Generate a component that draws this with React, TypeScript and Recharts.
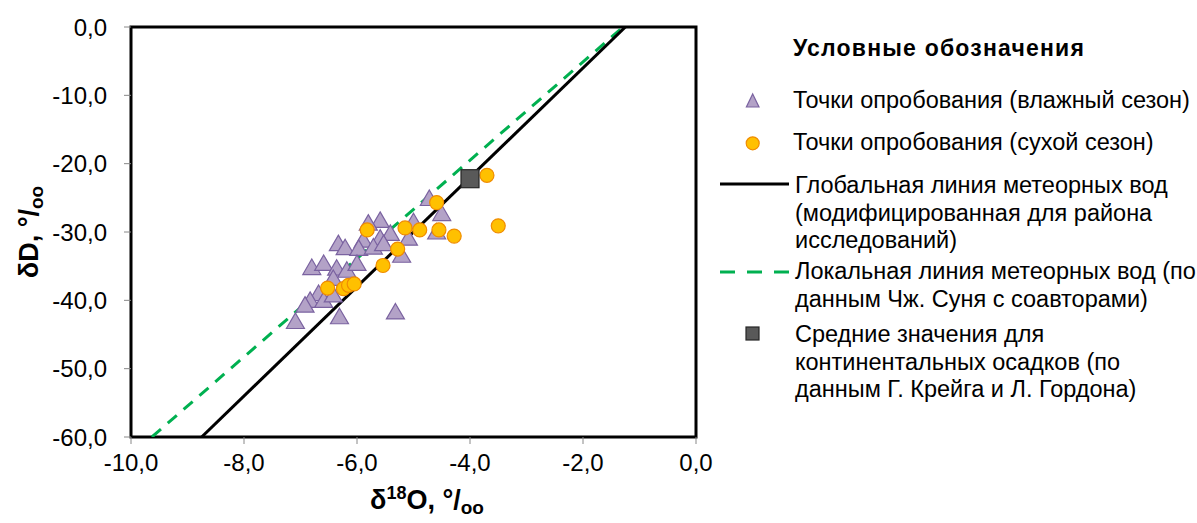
import { ReferenceArea, Scatter, ScatterChart, XAxis, YAxis } from 'recharts';

// δ18O / δD, ‰
const wetSeason = [
  { x: -4.72, y: -25.1 }, { x: -4.5, y: -27.3 }, { x: -5.59, y: -28.3 }, { x: -5.8, y: -28.7 },
  { x: -5.0, y: -28.5 }, { x: -4.59, y: -30.0 }, { x: -5.41, y: -30.2 }, { x: -5.09, y: -30.9 },
  { x: -5.59, y: -30.9 }, { x: -5.89, y: -31.2 }, { x: -6.33, y: -31.7 }, { x: -6.21, y: -32.3 },
  { x: -5.97, y: -32.4 }, { x: -5.71, y: -32.2 }, { x: -5.53, y: -31.7 }, { x: -5.21, y: -33.4 },
  { x: -6.8, y: -35.2 }, { x: -6.59, y: -34.6 }, { x: -6.36, y: -35.3 }, { x: -6.18, y: -35.6 },
  { x: -6.0, y: -34.6 }, { x: -6.42, y: -36.8 }, { x: -6.68, y: -39.0 }, { x: -6.83, y: -40.0 },
  { x: -6.92, y: -40.7 }, { x: -6.59, y: -40.0 }, { x: -6.42, y: -39.2 }, { x: -7.09, y: -43.1 },
  { x: -6.31, y: -42.4 }, { x: -5.32, y: -41.7 },
];

const drySeason = [
  { x: -3.7, y: -21.7 }, { x: -3.5, y: -29.1 }, { x: -4.59, y: -25.7 }, { x: -5.82, y: -29.7 },
  { x: -5.15, y: -29.4 }, { x: -4.89, y: -29.7 }, { x: -4.55, y: -29.7 }, { x: -4.28, y: -30.6 },
  { x: -5.28, y: -32.5 }, { x: -5.54, y: -34.9 }, { x: -6.52, y: -38.2 }, { x: -6.24, y: -38.3 },
  { x: -6.15, y: -37.8 }, { x: -6.05, y: -37.6 },
];

// global meteoric water line (modified), local meteoric water line
const gmwl = [{ x: -8.75, y: -60 }, { x: -1.25, y: 0 }];
const lmwl = [{ x: -9.63, y: -60 }, { x: -1.29, y: 0 }];

const continentalMean = [{ x: -4.0, y: -22.2 }];

const xTicks = [-10, -8, -6, -4, -2, 0];
const yTicks = [0, -10, -20, -30, -40, -50, -60];

const legendTitle = 'Условные обозначения';
const legendWet = ['Точки опробования (влажный сезон)'];
const legendDry = ['Точки опробования (сухой сезон)'];
const legendGmwl = ['Глобальная линия метеорных вод', '(модифицированная для района', 'исследований)'];
const legendLmwl = ['Локальная линия метеорных вод (по', 'данным Чж. Суня с соавторами)'];
const legendMean = ['Средние значения для', 'континентальных осадков (по', 'данным Г. Крейга и Л. Гордона)'];

const FONT = '"Liberation Sans", Arial, sans-serif';
const TRI_FILL = '#b3a2c7';
const TRI_STROKE = '#7a62a0';
const DOT_FILL = '#ffc000';
const DOT_STROKE = '#f08c00';
const SQ_FILL = '#595959';
const SQ_STROKE = '#262626';
const GREEN = '#00b050';

const fmt = (v: number) => v.toFixed(1).replace('.', ',');

const Triangle = (props: any) => {
  const { cx, cy } = props;
  const s = 9;
  return (
    <path
      d={`M${cx},${cy - 8.5} L${cx + s},${cy + 7} L${cx - s},${cy + 7} Z`}
      fill={TRI_FILL}
      stroke={TRI_STROKE}
      strokeWidth={1.2}
    />
  );
};

const Dot = (props: any) => (
  <circle cx={props.cx} cy={props.cy} r={7} fill={DOT_FILL} stroke={DOT_STROKE} strokeWidth={1.2} />
);

const Square = (props: any) => (
  <rect x={props.cx - 9} y={props.cy - 9} width={18} height={18} fill={SQ_FILL} stroke={SQ_STROKE} strokeWidth={1.2} />
);

const Nothing = () => <g />;

function LegendText({ lines, x, y }: { lines: string[]; x: number; y: number }) {
  return (
    <text x={x} y={y} fontSize={23.5} fill="#000" fontFamily={FONT}>
      {lines.map((l, i) => (
        <tspan key={i} x={x} dy={i === 0 ? 0 : 27.5}>
          {l}
        </tspan>
      ))}
    </text>
  );
}

export default function App() {
  return (
    <div
      style={{
        position: 'absolute',
        left: 0,
        top: 0,
        width: 1197,
        height: 523,
        background: '#fff',
        fontFamily: FONT,
      }}
    >
      <ScatterChart width={720} height={523} margin={{ top: 27, right: 24, bottom: 0, left: 0 }}>
        <XAxis
          type="number"
          dataKey="x"
          domain={[-10, 0]}
          ticks={xTicks}
          allowDataOverflow
          height={86}
          tickSize={7}
          tickMargin={10}
          tickLine={{ stroke: '#888' }}
          axisLine={{ stroke: '#000', strokeWidth: 2 }}
          tick={{ fill: '#000', fontSize: 24, fontFamily: FONT }}
          tickFormatter={fmt}
        />
        <YAxis
          type="number"
          dataKey="y"
          domain={[-60, 0]}
          ticks={yTicks}
          allowDataOverflow
          width={131}
          tickSize={7}
          tickMargin={17}
          tickLine={{ stroke: '#888' }}
          axisLine={{ stroke: '#000', strokeWidth: 2 }}
          tick={{ fill: '#000', fontSize: 24, fontFamily: FONT }}
          tickFormatter={fmt}
        />
        <ReferenceArea x1={-10} x2={0} y1={-60} y2={0} fill="none" stroke="#000" strokeWidth={3} />
        <Scatter
          data={lmwl}
          line={{ stroke: GREEN, strokeWidth: 3, strokeDasharray: '12 9' }}
          lineType="joint"
          shape={Nothing}
          isAnimationActive={false}
        />
        <Scatter
          data={gmwl}
          line={{ stroke: '#000', strokeWidth: 3 }}
          lineType="joint"
          shape={Nothing}
          isAnimationActive={false}
        />
        <Scatter data={wetSeason} shape={Triangle} isAnimationActive={false} />
        <Scatter data={drySeason} shape={Dot} isAnimationActive={false} />
        <Scatter data={continentalMean} shape={Square} isAnimationActive={false} />
      </ScatterChart>

      <svg
        width={1197}
        height={523}
        style={{ position: 'absolute', left: 0, top: 0, pointerEvents: 'none' }}
        fontFamily={FONT}
      >
        {/* axis titles */}
        <text
          transform="translate(38,232) rotate(-90)"
          textAnchor="middle"
          fontSize={27}
          fontWeight="bold"
          fill="#000"
        >
          δD, °/<tspan fontSize={19} dy={5}>oo</tspan>
        </text>
        <text x={427} y={509} textAnchor="middle" fontSize={27} fontWeight="bold" fill="#000">
          δ<tspan fontSize={18} dy={-10}>18</tspan>
          <tspan dy={10}>O, °/</tspan>
          <tspan fontSize={19} dy={5}>oo</tspan>
        </text>

        {/* legend */}
        <text x={793} y={56} fontSize={23} fontWeight="bold" letterSpacing={1.2} fill="#000">
          {legendTitle}
        </text>

        <path d="M752.7,94 L759,107 L746.4,107 Z" fill={TRI_FILL} stroke={TRI_STROKE} strokeWidth={1.2} />
        <LegendText lines={legendWet} x={793} y={108} />

        <circle cx={752.7} cy={143.3} r={6.5} fill={DOT_FILL} stroke={DOT_STROKE} strokeWidth={1.2} />
        <LegendText lines={legendDry} x={793} y={150} />

        <line x1={720} y1={184} x2={789} y2={184} stroke="#000" strokeWidth={3} />
        <LegendText lines={legendGmwl} x={795} y={193} />

        <line x1={720} y1={272} x2={789} y2={272} stroke={GREEN} strokeWidth={3} strokeDasharray="15 12" />
        <LegendText lines={legendLmwl} x={795} y={279} />

        <rect x={746} y={327} width={13} height={13} fill={SQ_FILL} stroke={SQ_STROKE} strokeWidth={1.2} />
        <LegendText lines={legendMean} x={795} y={342} />
      </svg>
    </div>
  );
}
